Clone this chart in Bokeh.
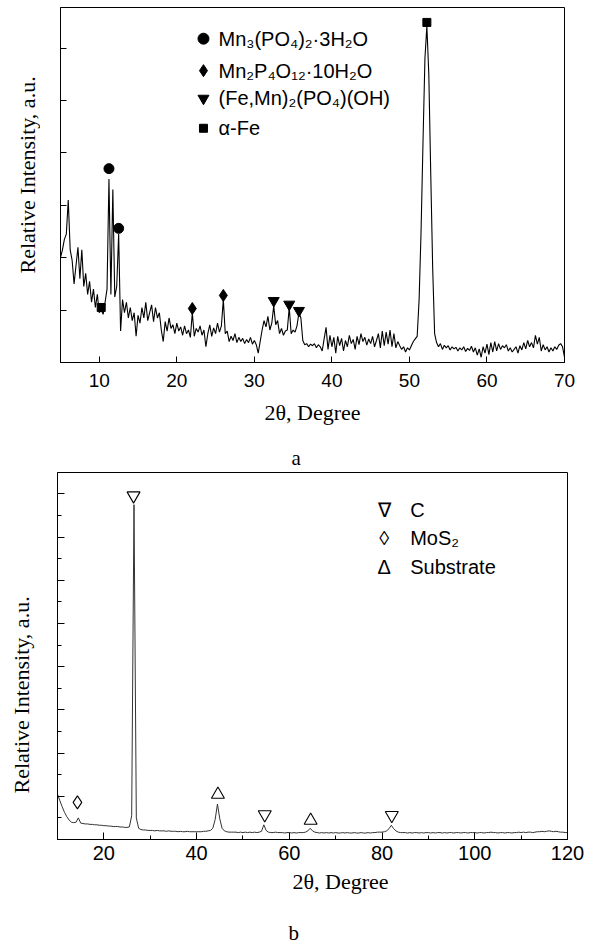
from bokeh.plotting import figure
from bokeh.layouts import column, row
from bokeh.models import Range1d, SingleIntervalTicker, Title, CustomJSTickFormatter
from bokeh.core.properties import value
from bokeh.embed import file_html
from bokeh.resources import INLINE

# ---------------- data: panel a ----------------
a_x_start, a_x_step = 5.0, 0.25
a_intensity = [
    2.00, 2.15, 2.35, 2.45, 3.10, 2.15, 1.95, 1.50, 1.85, 2.20, 1.60, 2.15, 1.45, 1.70, 1.30, 1.55, 1.15, 1.40, 1.05, 1.30,
    0.95, 1.00, 0.92, 1.15, 1.40, 3.50, 1.30, 3.30, 1.25, 1.45, 2.45, 0.60, 1.20, 0.95, 1.15, 0.85, 1.05, 0.80, 0.95, 0.50,
    0.90, 0.75, 1.05, 0.85, 1.15, 0.80, 0.95, 1.10, 0.78, 1.05, 0.85, 0.95, 0.62, 0.40, 0.78, 0.60, 0.85, 0.65, 0.72, 0.55,
    0.75, 0.60, 0.68, 0.52, 0.70, 0.55, 0.62, 0.48, 0.95, 0.50, 0.65, 0.58, 0.70, 0.52, 0.62, 0.30, 0.55, 0.72, 0.50, 0.66,
    0.55, 0.75, 0.58, 0.70, 1.20, 0.55, 0.60, 0.40, 0.50, 0.42, 0.55, 0.38, 0.48, 0.40, 0.46, 0.36, 0.44, 0.38, 0.48, 0.35,
    0.42, 0.34, 0.18, 0.40, 0.62, 0.80, 0.68, 0.88, 0.62, 0.75, 1.08, 0.72, 0.80, 0.55, 0.65, 0.52, 0.60, 0.62, 1.05, 0.55,
    0.62, 0.58, 0.70, 0.95, 0.85, 0.42, 0.34, 0.36, 0.30, 0.35, 0.32, 0.36, 0.28, 0.34, 0.30, 0.22, 0.45, 0.67, 0.25, 0.52,
    0.30, 0.48, 0.18, 0.50, 0.32, 0.46, 0.22, 0.42, 0.30, 0.52, 0.36, 0.44, 0.25, 0.50, 0.34, 0.55, 0.40, 0.48, 0.33, 0.45,
    0.36, 0.50, 0.30, 0.42, 0.55, 0.28, 0.60, 0.32, 0.58, 0.35, 0.62, 0.30, 0.55, 0.28, 0.40, 0.32, 0.25, 0.30, 0.20, 0.28,
    0.24, 0.32, 0.40, 0.45, 0.50, 1.20, 2.50, 4.20, 5.80, 6.42, 5.50, 3.60, 1.80, 0.55, 0.38, 0.30, 0.36, 0.25, 0.33, 0.28,
    0.32, 0.24, 0.30, 0.26, 0.29, 0.22, 0.28, 0.24, 0.30, 0.21, 0.27, 0.23, 0.31, 0.20, 0.28, 0.14, 0.26, 0.10, 0.30, 0.18,
    0.35, 0.15, 0.38, 0.20, 0.40, 0.22, 0.36, 0.25, 0.32, 0.28, 0.34, 0.22, 0.28, 0.20, 0.25, 0.30, 0.18, 0.32, 0.24, 0.38,
    0.26, 0.42, 0.30, 0.38, 0.28, 0.52, 0.35, 0.48, 0.22, 0.34, 0.24, 0.30, 0.20, 0.28, 0.22, 0.30, 0.25, 0.33, 0.36, 0.30,
    0.10,
]
a_x = [a_x_start + a_x_step * i for i in range(len(a_intensity))]

a_circle_x = [11.25, 12.5]
a_circle_y = [3.70, 2.56]
a_diamond_x = [22.0, 26.0]
a_diamond_y = [1.03, 1.28]
a_tri_x = [32.5, 34.5, 35.75]
a_tri_y = [1.18, 1.11, 0.99]
a_square_x = [10.25, 52.25]
a_square_y = [1.05, 6.49]

a_legend_labels = ["Mn\u2083(PO\u2084)\u2082\u00b73H\u2082O",
                   "Mn\u2082P\u2084O\u2081\u2082\u00b710H\u2082O",
                   "(Fe,Mn)\u2082(PO\u2084)(OH)",
                   "\u03b1-Fe"]

# ---------------- data: panel b ----------------
b_x_start, b_x_step = 10.0, 0.5
b_intensity = [
    1.05, 0.90, 0.76, 0.63, 0.53, 0.45, 0.40, 0.39, 0.40, 0.50, 0.38, 0.37, 0.36, 0.36, 0.35, 0.35, 0.34, 0.34, 0.33, 0.33,
    0.32, 0.32, 0.31, 0.31, 0.30, 0.30, 0.30, 0.29, 0.29, 0.28, 0.28, 0.29, 0.55, 7.75, 0.50, 0.26, 0.23, 0.22, 0.22, 0.21,
    0.21, 0.21, 0.20, 0.21, 0.20, 0.20, 0.20, 0.19, 0.20, 0.19, 0.19, 0.19, 0.18, 0.19, 0.18, 0.18, 0.19, 0.18, 0.18, 0.18,
    0.18, 0.18, 0.18, 0.19, 0.19, 0.20, 0.21, 0.26, 0.46, 0.82, 0.48, 0.26, 0.20, 0.18, 0.17, 0.17, 0.17, 0.17, 0.16, 0.17,
    0.16, 0.17, 0.16, 0.17, 0.16, 0.17, 0.16, 0.17, 0.19, 0.34, 0.21, 0.17, 0.16, 0.16, 0.17, 0.16, 0.16, 0.16, 0.15, 0.16,
    0.16, 0.15, 0.16, 0.15, 0.16, 0.16, 0.16, 0.17, 0.20, 0.26, 0.20, 0.17, 0.16, 0.15, 0.16, 0.15, 0.16, 0.15, 0.16, 0.15,
    0.16, 0.15, 0.15, 0.16, 0.15, 0.16, 0.15, 0.15, 0.16, 0.15, 0.15, 0.16, 0.15, 0.15, 0.16, 0.15, 0.16, 0.16, 0.17, 0.17,
    0.17, 0.18, 0.20, 0.25, 0.33, 0.25, 0.20, 0.17, 0.16, 0.16, 0.16, 0.15, 0.16, 0.15, 0.16, 0.16, 0.15, 0.16, 0.15, 0.16,
    0.16, 0.15, 0.16, 0.15, 0.16, 0.16, 0.15, 0.16, 0.15, 0.16, 0.16, 0.15, 0.16, 0.16, 0.15, 0.16, 0.16, 0.15, 0.16, 0.16,
    0.16, 0.15, 0.16, 0.16, 0.15, 0.16, 0.16, 0.17, 0.16, 0.16, 0.15, 0.16, 0.16, 0.15, 0.16, 0.16, 0.15, 0.16, 0.16, 0.17,
    0.16, 0.17, 0.16, 0.17, 0.17, 0.16, 0.17, 0.18, 0.18, 0.19, 0.18, 0.19, 0.20, 0.19, 0.18, 0.19, 0.18, 0.17, 0.17, 0.16,
    0.16,
]
b_x = [b_x_start + b_x_step * i for i in range(len(b_intensity))]

b_c_x = [26.4, 54.7, 82.1]
b_c_y = [7.96, 0.58, 0.56]
b_mos2_x = [14.3]
b_mos2_y = [0.86]
b_sub_x = [44.6, 64.6]
b_sub_y = [1.04, 0.44]

b_legend_symbols = ["\u2207", "\u25ca", "\u0394"]
b_legend_labels = ["C", "MoS\u2082", "Substrate"]

Y_LABEL = "Relative Intensity, a.u."
X_LABEL = "2\u03b8, Degree"

SANS = "Liberation Sans"
SERIF = "Liberation Serif"


def style(p, tick_font_size, tick_standoff):
    p.outline_line_color = "black"
    p.outline_line_width = 1
    p.background_fill_color = "white"
    p.border_fill_color = "white"
    p.xgrid.visible = False
    p.ygrid.visible = False
    for ax in (p.xaxis[0], p.yaxis[0]):
        ax.axis_line_color = "black"
        ax.major_tick_line_color = "black"
        ax.minor_tick_line_color = "black"
        ax.major_tick_out = 0
        ax.minor_tick_out = 0
    p.xaxis.major_label_text_font = SANS
    p.xaxis.major_label_text_font_size = tick_font_size
    p.xaxis.major_label_text_color = "black"
    p.xaxis.major_label_standoff = tick_standoff
    p.yaxis.formatter = CustomJSTickFormatter(code="return ''")
    p.yaxis.major_label_standoff = 0


def title(text, size, align, offset, standoff, valign="bottom"):
    return Title(text=text, align=align, offset=offset, standoff=standoff, vertical_align=valign,
                 text_font=SERIF, text_font_size=size, text_font_style="normal",
                 text_color="black")


def blank(width, height, frame_left=0):
    q = figure(width=width, height=height, x_range=Range1d(0, 1), y_range=Range1d(0, 1),
               x_axis_location=None, y_axis_location=None, output_backend="svg", toolbar_location=None,
               min_border_left=frame_left, min_border_right=0, min_border_top=0, min_border_bottom=0,
               outline_line_color=None)
    q.xgrid.visible = False
    q.ygrid.visible = False
    q.background_fill_color = "white"
    q.border_fill_color = "white"
    return q


H1, H2, H3 = 440, 463, 42
LW = 40

# ---------------- panel a ----------------
p1 = figure(width=594 - LW, height=H1, x_range=Range1d(5, 70), y_range=Range1d(0, 6.775),
            output_backend="svg", toolbar_location=None,
            min_border_left=60 - LW, min_border_right=30, min_border_top=7, min_border_bottom=H1 - 362)
style(p1, "19px", 11)
p1.xaxis.ticker = SingleIntervalTicker(interval=10, num_minor_ticks=0)
p1.yaxis.ticker = SingleIntervalTicker(interval=1, num_minor_ticks=0)
p1.xaxis.major_tick_in = 6
p1.yaxis.major_tick_in = 6
p1.xaxis.minor_tick_in = 0
p1.yaxis.minor_tick_in = 0

p1.line(a_x, a_intensity, line_color="black", line_width=1.1)
p1.scatter(a_circle_x, a_circle_y, marker="circle", size=10, color="black")
p1.scatter(a_diamond_x, a_diamond_y, marker="diamond", size=12, color="black")
p1.scatter(a_tri_x, a_tri_y, marker="inverted_triangle", size=11, color="black")
p1.scatter(a_square_x, a_square_y, marker="square", size=8, color="black")

leg_a_y = [6.18, 5.57, 5.04, 4.47]
p1.scatter([23.44], [leg_a_y[0]], marker="circle", size=11, color="black")
p1.scatter([23.44], [leg_a_y[1]], marker="diamond", size=12, color="black")
p1.scatter([23.44], [leg_a_y[2]], marker="inverted_triangle", size=11, color="black")
p1.scatter([23.44], [leg_a_y[3]], marker="square", size=8, color="black")
p1.text(x=[25.38] * 4, y=leg_a_y, text=a_legend_labels, text_font=value(SANS),
        text_font_size="20px", text_baseline="middle", text_align="left", text_color="black")

p1.add_layout(title(X_LABEL, "22px", "center", 0, 16), "below")

# the label strip's frame is aligned with p1's frame (bottom at page y 362)
q1 = blank(LW, H1, frame_left=39)
q1.add_layout(title(Y_LABEL, "22px", "left", 362 - 273, 0), "left")

# ---------------- panel b ----------------
p2 = figure(width=594 - LW, height=H2, x_range=Range1d(10, 120), y_range=Range1d(0, 8.495),
            output_backend="svg", toolbar_location=None,
            min_border_left=57 - LW, min_border_right=27, min_border_top=472 - H1,
            min_border_bottom=H2 - (839 - H1))
style(p2, "20px", 6)
p2.xaxis.ticker = SingleIntervalTicker(interval=20, num_minor_ticks=2)
p2.yaxis.ticker = SingleIntervalTicker(interval=1, num_minor_ticks=2)
p2.xaxis.major_tick_in = 7
p2.yaxis.major_tick_in = 7
p2.xaxis.minor_tick_in = 4
p2.yaxis.minor_tick_in = 4

p2.line(b_x, b_intensity, line_color="#333333", line_width=1)
p2.scatter(b_c_x, b_c_y, marker="inverted_triangle", size=13, fill_color=None, line_color="black", line_width=1.1)
p2.scatter(b_mos2_x, b_mos2_y, marker="diamond", size=13, fill_color=None, line_color="black", line_width=1.1)
p2.scatter(b_sub_x, b_sub_y, marker="triangle", size=13, fill_color=None, line_color="black", line_width=1.1)

leg_b_y = [7.62, 6.99, 6.30]
p2.text(x=[80.45] * 3, y=leg_b_y, text=b_legend_symbols, text_font=value(SANS),
        text_font_size="20px", text_baseline="middle", text_align="center", text_color="black")
p2.text(x=[86.07] * 3, y=leg_b_y, text=b_legend_labels, text_font=value(SANS),
        text_font_size="20px", text_baseline="middle", text_align="left", text_color="black")

p2.add_layout(title("a", "21px", "left", 234, 5), "above")
p2.add_layout(title(X_LABEL, "22px", "left", 235, 8), "below")

# the label strip's frame is aligned with p2's frame (bottom at page y 839)
q2 = blank(LW, H2, frame_left=33)
q2.add_layout(title(Y_LABEL, "22px", "left", 839 - 793, 0), "left")

# ---------------- panel label b ----------------
p3 = figure(width=594, height=H3, x_range=Range1d(0, 594), y_range=Range1d(0, H3),
            x_axis_location=None, y_axis_location=None, output_backend="svg", toolbar_location=None,
            min_border=0, outline_line_color=None)
p3.xgrid.visible = False
p3.ygrid.visible = False
p3.text(x=[288], y=[13], text=["b"], text_font=value(SERIF), text_font_size="21px",
        text_align="left", text_baseline="middle", text_color="black")

layout = column(row(q1, p1, spacing=0), row(q2, p2, spacing=0), p3, spacing=0)
open("out.html", "w").write(file_html(layout, INLINE))
